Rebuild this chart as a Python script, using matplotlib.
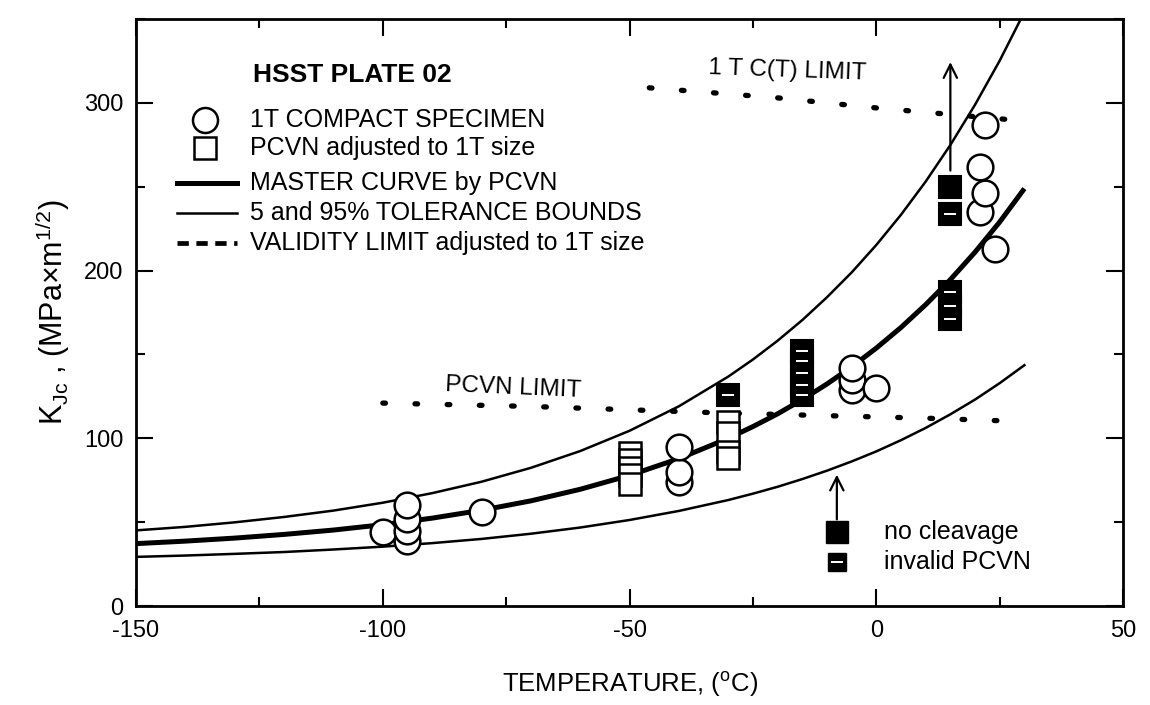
import numpy as np
import matplotlib.pyplot as plt
from matplotlib.ticker import MultipleLocator

plt.rcParams['font.family'] = ['Liberation Sans', 'DejaVu Sans']
plt.rcParams['mathtext.fontset'] = 'custom'
plt.rcParams['mathtext.rm'] = 'Liberation Sans'
plt.rcParams['mathtext.it'] = 'Liberation Sans:italic'
plt.rcParams['axes.unicode_minus'] = False

# master curve and tolerance bounds
curve_T = [-150, -140, -130, -120, -110, -100, -90, -80, -70, -60,
           -50, -40, -30, -25, -20, -15, -10, -5, 0, 5, 10, 15, 20, 25, 30]
master_K = [37.2, 38.7, 40.5, 42.7, 45.3, 48.5, 52.4, 57.1, 62.7, 69.6,
            77.9, 87.9, 100.0, 107.0, 114.6, 123.1, 132.4, 142.6, 153.8,
            166.1, 179.7, 194.6, 211.0, 229.0, 248.9]
lower_K = [29.3, 30.1, 31.1, 32.2, 33.7, 35.4, 37.5, 40.0, 43.1, 46.8,
           51.3, 56.7, 63.2, 67.0, 71.1, 75.7, 80.7, 86.2, 92.2,
           98.9, 106.2, 114.3, 123.1, 132.9, 143.6]
upper_K = [45.1, 47.2, 49.9, 53.1, 56.9, 61.6, 67.3, 74.1, 82.4, 92.4,
           104.5, 119.1, 136.8, 147.0, 158.2, 170.5, 184.1, 198.9, 215.3,
           233.3, 253.1, 274.9, 298.9, 325.2, 354.2]

# validity limits
pcvn_lim_T = [-100, -70, -50, -30, -10, 10, 30]
pcvn_lim_K = [121, 119, 117, 115, 113.5, 112, 110]
ct_lim_T = [-46, -20, 0, 27]
ct_lim_K = [309, 303, 297, 290]

# 1T compact specimens
ct_T = [-100, -95, -95, -95, -95, -80, -40, -40, -40, -5, -5, -5, 0,
        24, 21, 22, 21, 22]
ct_K = [44, 39, 45, 52, 60, 56, 74, 80, 95, 129, 135, 142, 130,
        213, 235, 246, 262, 287]

# PCVN adjusted to 1T size
pcvn_T = [-50, -50, -50, -50, -50, -30, -30, -30, -30]
pcvn_K = [91, 87, 82, 78, 73, 110, 103, 92, 88]

# invalid PCVN
inv_T = [-30, -15, -15, -15, -15, -15, 15, 15, 15, 15]
inv_K = [126, 152, 146, 139, 132, 126, 187, 179, 171, 234]

# no cleavage
nc_T = [15]
nc_K = [250]

fig = plt.figure(figsize=(11.5, 7.05), dpi=100)
ax = fig.add_axes([0.1183, 0.1404, 0.8583, 0.8326])

ax.plot(curve_T, master_K, color='black', lw=3.6, solid_capstyle='butt')
ax.plot(curve_T, lower_K, color='black', lw=1.8)
ax.plot(curve_T, upper_K, color='black', lw=1.8)

dot = dict(color='black', lw=3.8, dashes=(0.5, 5.6), dash_capstyle='round')
ax.plot(pcvn_lim_T, pcvn_lim_K, **dot)
ax.plot(ct_lim_T, ct_lim_K, **dot)

ax.plot(pcvn_T, pcvn_K, 's', ms=15.5, mfc='white', mec='black', mew=1.8, ls='none')
ax.plot(inv_T, inv_K, 's', ms=15.5, mfc='black', mec='black', mew=1.5, ls='none')
ax.plot(inv_T, inv_K, '_', ms=9, mec='white', mew=1.4, ls='none')
ax.plot(nc_T, nc_K, 's', ms=15.5, mfc='black', mec='black', mew=1.5, ls='none')
ax.plot(ct_T, ct_K, 'o', ms=18.5, mfc='white', mec='black', mew=1.8, ls='none')

ax.annotate('', xy=(15, 326), xytext=(15, 258),
            arrowprops=dict(arrowstyle='->', color='black', lw=1.6,
                            mutation_scale=24))

ax.text(-73.5, 130, 'PCVN LIMIT', fontsize=17.5, ha='center', va='center', rotation=-2.5)
ax.text(-18, 319, '1 T C(T) LIMIT', fontsize=17.5, ha='center', va='center', rotation=-2)

# note at lower right
ax.plot([-8], [44], 's', ms=15.5, mfc='black', mec='black', ls='none')
ax.plot([-8], [26], 's', ms=13, mfc='black', mec='black', ls='none')
ax.plot([-8], [26], '_', ms=8, mec='white', mew=1.4, ls='none')
ax.annotate('', xy=(-8, 80), xytext=(-8, 50),
            arrowprops=dict(arrowstyle='->', color='black', lw=1.6,
                            mutation_scale=24))
ax.text(1.5, 44, 'no cleavage', fontsize=18, va='center')
ax.text(1.5, 26, 'invalid PCVN', fontsize=18, va='center')

# legend block
tr = ax.transAxes
ax.text(0.1185, 0.905, 'HSST PLATE 02', transform=tr, fontsize=19,
        fontweight='bold', va='center')
ax.plot([0.070], [0.828], 'o', transform=tr, ms=18, mfc='white', mec='black', mew=1.8)
ax.plot([0.070], [0.780], 's', transform=tr, ms=16, mfc='white', mec='black', mew=1.8)
ax.plot([0.0415, 0.102], [0.7206, 0.7206], transform=tr, color='black', lw=3.6)
ax.plot([0.0415, 0.102], [0.6695, 0.6695], transform=tr, color='black', lw=1.8)
ax.plot([0.0415, 0.102], [0.618, 0.618], transform=tr, color='black', lw=3.4,
        dashes=(2.4, 1.6))
leg_labels = ['1T COMPACT SPECIMEN', 'PCVN adjusted to 1T size',
              'MASTER CURVE by PCVN', '5 and 95% TOLERANCE BOUNDS',
              'VALIDITY LIMIT adjusted to 1T size']
for lab, yy in zip(leg_labels, [0.828, 0.780, 0.7206, 0.6695, 0.618]):
    ax.text(0.1155, yy, lab, transform=tr, fontsize=18, va='center')

ax.set_xlim(-150, 50)
ax.set_ylim(0, 350)
ax.xaxis.set_major_locator(MultipleLocator(50))
ax.xaxis.set_minor_locator(MultipleLocator(25))
ax.yaxis.set_major_locator(MultipleLocator(100))
ax.yaxis.set_minor_locator(MultipleLocator(50))
ax.tick_params(which='both', direction='in', top=True, right=True, width=1.5,
               labelsize=17)
ax.tick_params(which='major', length=12)
ax.tick_params(which='minor', length=6.5)
ax.tick_params(axis='x', pad=10)
ax.tick_params(axis='y', pad=9)
for s in ax.spines.values():
    s.set_linewidth(2)

ax.set_xlabel('TEMPERATURE, ($^{\\mathrm{o}}$C)', fontsize=18.5, labelpad=20)
ax.set_ylabel('K$_{\\mathrm{Jc}}$ , (MPa×m$^{\\mathrm{1/2}}$)', fontsize=22, labelpad=9)

plt.savefig('out.png', dpi=100)
